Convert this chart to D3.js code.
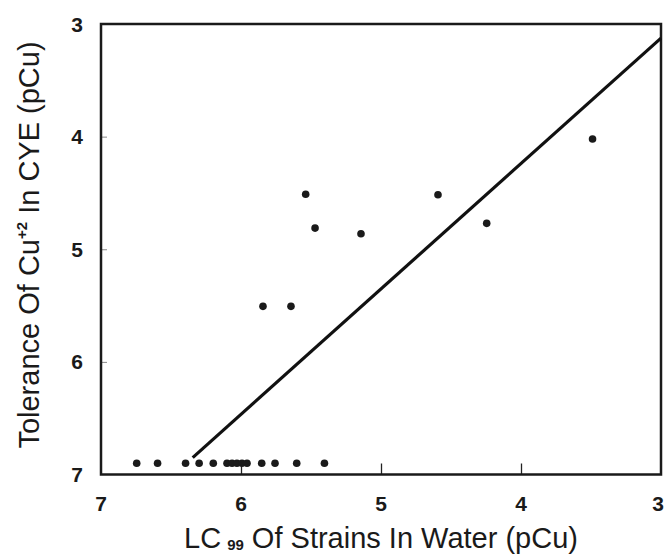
<!DOCTYPE html>
<html><head><meta charset="utf-8">
<script src="https://cdn.jsdelivr.net/npm/d3@7"></script>
<style>body{margin:0;background:#fff}svg{display:block}text{font-family:"Liberation Sans",Arial,Helvetica,sans-serif;fill:#1a1a1a}</style>
</head><body><svg id="c" width="665" height="555"></svg>
<script>
// LC99 of strains in water (pCu) and tolerance of Cu+2 in CYE (pCu)
const lcWater = [6.745,6.596,6.396,6.299,6.198,6.100,6.064,6.029,5.993,5.957,5.852,5.757,5.602,5.404,
                 5.538,5.471,5.143,5.843,5.643,4.593,3.489,4.245];
const toleranceCYE = [6.90,6.90,6.90,6.90,6.90,6.90,6.90,6.90,6.90,6.90,6.90,6.90,6.90,6.90,
                      4.512,4.812,4.862,5.507,5.507,4.516,4.021,4.770];
const fitX = [6.345,3.0];
const fitY = [6.85,3.125];
const xTicks = [7,6,5,4,3];
const yTicks = [3,4,5,6,7];

const svg = d3.select("#c");
const L=101,R=661,T=24,B=474.5;
const x = d3.scaleLinear().domain([7,3]).range([L,R]);
const y = d3.scaleLinear().domain([3,7]).range([T,B]);

// inner ticks
svg.append("g").attr("transform",`translate(0,${B})`)
  .call(d3.axisTop(x).tickValues(xTicks.filter(v=>v!==7&&v!==3)).tickSize(11).tickFormat(""))
  .call(g=>g.select(".domain").remove())
  .call(g=>g.selectAll("line").attr("stroke","#222").attr("stroke-width",1.3));
svg.append("g").attr("transform",`translate(${L},0)`)
  .call(d3.axisRight(y).tickValues(yTicks.filter(v=>v!==3&&v!==7)).tickSize(6).tickFormat(""))
  .call(g=>g.select(".domain").remove())
  .call(g=>g.selectAll("line").attr("stroke","#888").attr("stroke-width",1));

// tick labels
svg.append("g").selectAll("text").data(xTicks).join("text")
  .attr("x",d=>d===3?664:x(d)).attr("y",511).attr("text-anchor",d=>d===3?"end":"middle")
  .attr("font-size",21).attr("font-weight","bold").text(d=>d);
svg.append("g").selectAll("text").data(yTicks).join("text")
  .attr("x",83).attr("y",d=>y(d)+7.5).attr("text-anchor","end")
  .attr("font-size",21).attr("font-weight","bold").text(d=>d);

// frame
svg.append("rect").attr("x",L).attr("y",T).attr("width",R-L).attr("height",B-T)
  .attr("fill","none").attr("stroke","#1a1a1a").attr("stroke-width",2.5);

// fit line
svg.append("line").attr("x1",x(fitX[0])).attr("y1",y(fitY[0])).attr("x2",x(fitX[1])).attr("y2",y(fitY[1]))
  .attr("stroke","#111").attr("stroke-width",3.2);

// points
svg.append("g").selectAll("circle").data(lcWater).join("circle")
  .attr("cx",d=>x(d)).attr("cy",(d,i)=>y(toleranceCYE[i])).attr("r",3.8).attr("fill","#1a1a1a");

// x title
const xt = svg.append("text").attr("x",381).attr("y",548).attr("text-anchor","middle").attr("font-size",29);
xt.append("tspan").text("LC");
xt.append("tspan").attr("font-size",15).attr("font-weight","bold").attr("dx",6).attr("dy",2).text("99");
xt.append("tspan").attr("dy",-2).text(" Of Strains In Water (pCu)");

// y title
const yt = svg.append("text").attr("transform","translate(39,245) rotate(-90)").attr("text-anchor","middle").attr("font-size",29);
yt.append("tspan").text("Tolerance Of Cu");
yt.append("tspan").attr("font-size",15).attr("font-weight","bold").attr("dy",-12).text("+2");
yt.append("tspan").attr("dy",12).text(" In CYE (pCu)");
</script></body></html>
